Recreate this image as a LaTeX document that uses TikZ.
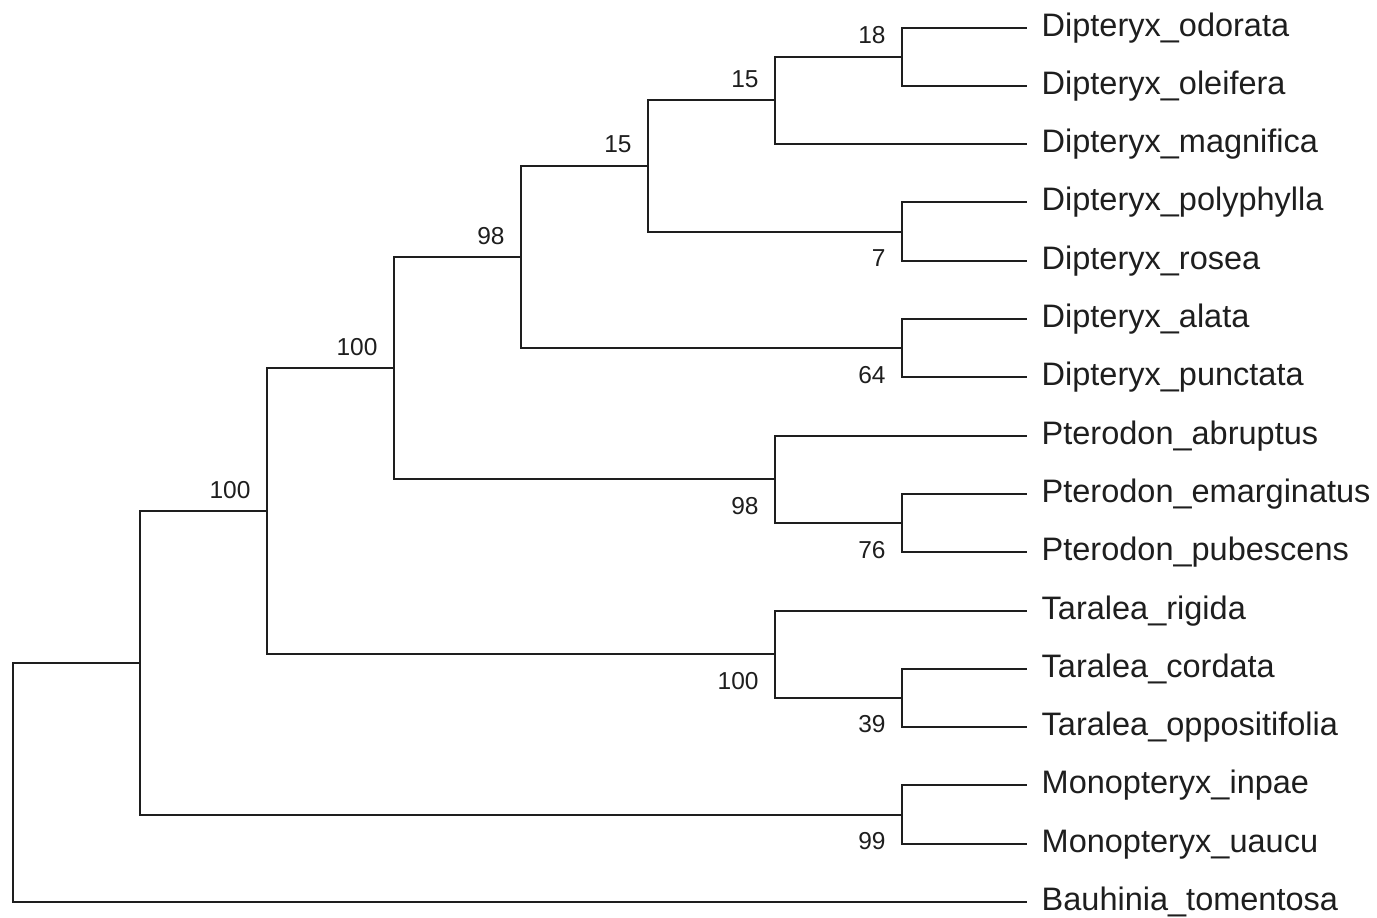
\documentclass[tikz,border=0pt]{standalone}
\usepackage{fontspec}
\setmainfont{Liberation Sans}
\usetikzlibrary{calc}
\definecolor{ink}{HTML}{1E1E1E}
\tikzset{
  branch/.style={draw=ink, line width=2pt, line cap=rect},
  leaflab/.style={anchor=base west, inner sep=0pt, text=ink, font=\fontsize{32.5}{36}\selectfont},
  bslab/.style={anchor=base east, inner sep=0pt, text=ink, font=\fontsize{24.5}{28}\selectfont},
}
\begin{document}
\begin{tikzpicture}[x=1pt,y=-1pt]
\useasboundingbox (0,0) rectangle (1377,918);
% leaf tips
\foreach \i/\nm in {1/Dipteryx\_odorata,2/Dipteryx\_oleifera,3/Dipteryx\_magnifica,4/Dipteryx\_polyphylla,5/Dipteryx\_rosea,6/Dipteryx\_alata,7/Dipteryx\_punctata,8/Pterodon\_abruptus,9/Pterodon\_emarginatus,10/Pterodon\_pubescens,11/Taralea\_rigida,12/Taralea\_cordata,13/Taralea\_oppositifolia,14/Monopteryx\_inpae,15/Monopteryx\_uaucu,16/Bauhinia\_tomentosa}{
  \pgfmathsetmacro{\yy}{27.5+58.3*(\i-1)}
  \coordinate (t\i) at (1026,\yy);
  \node[leaflab] (L\i) at (1041.5,\yy+8.5) {\nm};
}
% internal nodes
\coordinate (n18)   at (901.7,56.65);
\coordinate (n15a)  at (774.7,100.375);
\coordinate (n7)    at (901.7,231.55);
\coordinate (n15b)  at (647.7,165.96);
\coordinate (n64)   at (901.7,348.15);
\coordinate (n98a)  at (520.7,257.06);
\coordinate (n76)   at (901.7,523.05);
\coordinate (n98b)  at (774.7,479.33);
\coordinate (n100a) at (393.7,368.19);
\coordinate (n39)   at (901.7,697.95);
\coordinate (n100b) at (774.7,654.23);
\coordinate (n100c) at (266.7,511.21);
\coordinate (n99)   at (901.7,814.55);
\coordinate (nout)  at (139.7,662.88);
\coordinate (root)  at (12.7,782.44);
% branches
\draw[branch] (n18) |- (t1);   \draw[branch] (n18) |- (t2);
\draw[branch] (n15a) |- (n18); \draw[branch] (n15a) |- (t3);
\draw[branch] (n7) |- (t4);    \draw[branch] (n7) |- (t5);
\draw[branch] (n15b) |- (n15a); \draw[branch] (n15b) |- (n7);
\draw[branch] (n64) |- (t6);   \draw[branch] (n64) |- (t7);
\draw[branch] (n98a) |- (n15b); \draw[branch] (n98a) |- (n64);
\draw[branch] (n76) |- (t9);   \draw[branch] (n76) |- (t10);
\draw[branch] (n98b) |- (t8);  \draw[branch] (n98b) |- (n76);
\draw[branch] (n100a) |- (n98a); \draw[branch] (n100a) |- (n98b);
\draw[branch] (n39) |- (t12);  \draw[branch] (n39) |- (t13);
\draw[branch] (n100b) |- (t11); \draw[branch] (n100b) |- (n39);
\draw[branch] (n100c) |- (n100a); \draw[branch] (n100c) |- (n100b);
\draw[branch] (n99) |- (t14);  \draw[branch] (n99) |- (t15);
\draw[branch] (nout) |- (n100c); \draw[branch] (nout) |- (n99);
\draw[branch] (root) |- (nout); \draw[branch] (root) |- (t16);
% bootstrap values
\node[bslab] (b18)   at ([shift={(-16,-13)}]n18)   {18};
\node[bslab] (b15a)  at ([shift={(-16,-13)}]n15a)  {15};
\node[bslab] (b15b)  at ([shift={(-16,-13)}]n15b)  {15};
\node[bslab] (b98a)  at ([shift={(-16,-13)}]n98a)  {98};
\node[bslab] (b100a) at ([shift={(-16,-13)}]n100a) {100};
\node[bslab] (b100c) at ([shift={(-16,-13)}]n100c) {100};
\node[bslab] (b7)    at ([shift={(-16,35)}]n7)     {7};
\node[bslab] (b64)   at ([shift={(-16,35)}]n64)    {64};
\node[bslab] (b98b)  at ([shift={(-16,35)}]n98b)   {98};
\node[bslab] (b76)   at ([shift={(-16,35)}]n76)    {76};
\node[bslab] (b100b) at ([shift={(-16,35)}]n100b)  {100};
\node[bslab] (b39)   at ([shift={(-16,35)}]n39)    {39};
\node[bslab] (b99)   at ([shift={(-16,35)}]n99)    {99};
\end{tikzpicture}
\end{document}
